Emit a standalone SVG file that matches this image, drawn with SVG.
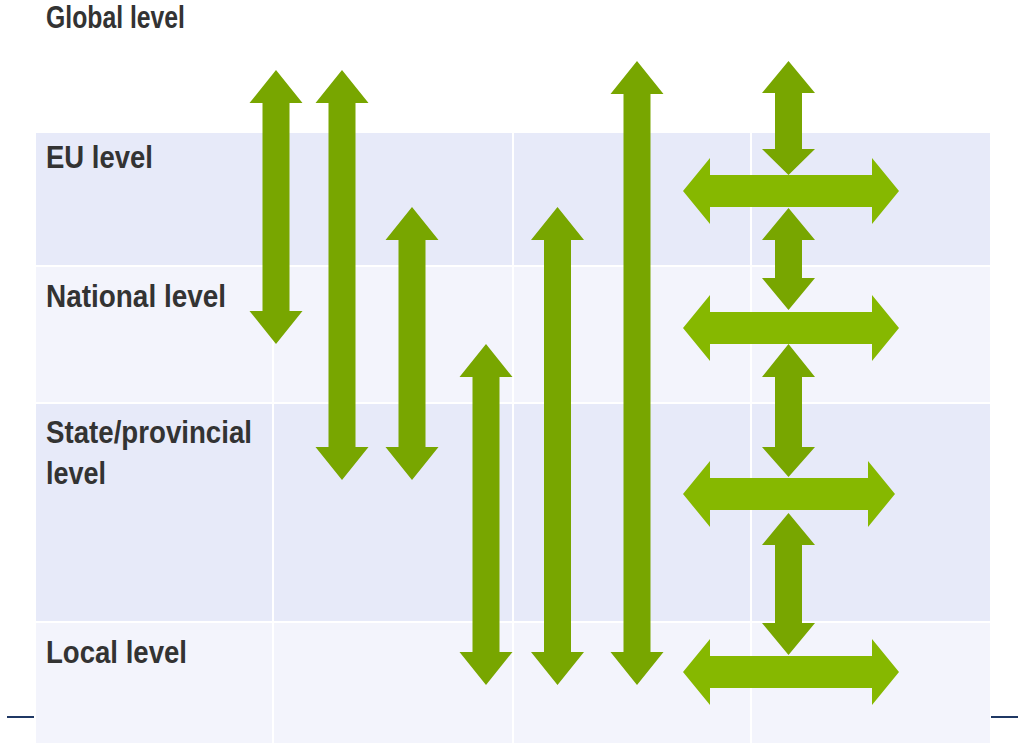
<svg xmlns="http://www.w3.org/2000/svg" width="1024" height="750" viewBox="0 0 1024 750">
<style>
.rowA{fill:#e7eaf9}
.rowB{fill:#f3f4fc}
.grid{stroke:#ffffff;stroke-width:2}
.lbl{font-family:"Liberation Sans",Arial,sans-serif;font-weight:bold;font-size:31px;fill:#333333}
.v{fill:#78a600}
.h{fill:#86b800}
.rule{stroke:#1f3864;stroke-width:2}
</style>
<rect width="1024" height="750" fill="#ffffff"/>
<g id="table">
<rect class="rowA" x="36" y="133" width="954" height="133"/>
<rect class="rowB" x="36" y="266" width="954" height="137"/>
<rect class="rowA" x="36" y="403" width="954" height="219"/>
<rect class="rowB" x="36" y="622" width="954" height="121"/>
<line class="grid" x1="36" y1="266" x2="990" y2="266"/>
<line class="grid" x1="36" y1="403" x2="990" y2="403"/>
<line class="grid" x1="36" y1="622" x2="990" y2="622"/>
<line class="grid" x1="273" y1="133" x2="273" y2="743"/>
<line class="grid" x1="513" y1="133" x2="513" y2="743"/>
<line class="grid" x1="751" y1="133" x2="751" y2="743"/>
<line class="rule" x1="7" y1="717" x2="34" y2="717"/>
<line class="rule" x1="991" y1="717" x2="1018" y2="717"/>
</g>
<g id="label-global"><text class="lbl" x="46" y="28" textLength="139" lengthAdjust="spacingAndGlyphs">Global level</text></g>
<g id="label-eu"><text class="lbl" x="46" y="168" textLength="107" lengthAdjust="spacingAndGlyphs">EU level</text></g>
<g id="label-national"><text class="lbl" x="46" y="307" textLength="180" lengthAdjust="spacingAndGlyphs">National level</text></g>
<g id="label-state"><text class="lbl" x="46" y="443" textLength="206" lengthAdjust="spacingAndGlyphs">State/provincial</text><text class="lbl" x="46" y="484" textLength="60" lengthAdjust="spacingAndGlyphs">level</text></g>
<g id="label-local"><text class="lbl" x="46" y="663" textLength="141" lengthAdjust="spacingAndGlyphs">Local level</text></g>
<g id="connectors">
<path class="v" d="M276,70 L302.5,103 L289.5,103 L289.5,311 L302.5,311 L276,344 L249.5,311 L262.5,311 L262.5,103 L249.5,103 Z"/>
<path class="v" d="M342,70 L368.5,103 L355.5,103 L355.5,447 L368.5,447 L342,480 L315.5,447 L328.5,447 L328.5,103 L315.5,103 Z"/>
<path class="v" d="M412,207 L438.5,240 L425.5,240 L425.5,447 L438.5,447 L412,480 L385.5,447 L398.5,447 L398.5,240 L385.5,240 Z"/>
<path class="v" d="M486,344 L512.5,377 L499.5,377 L499.5,652 L512.5,652 L486,685 L459.5,652 L472.5,652 L472.5,377 L459.5,377 Z"/>
<path class="v" d="M557.5,207 L584,240 L571,240 L571,652 L584,652 L557.5,685 L531,652 L544,652 L544,240 L531,240 Z"/>
<path class="v" d="M637,61 L663.5,94 L650.5,94 L650.5,652 L663.5,652 L637,685 L610.5,652 L623.5,652 L623.5,94 L610.5,94 Z"/>
<path class="v" d="M788.5,61 L815,93 L802,93 L802,149 L815,149 L788.5,175 L762,149 L775,149 L775,93 L762,93 Z"/>
<path class="v" d="M788.5,208 L815,240 L802,240 L802,278 L815,278 L788.5,310 L762,278 L775,278 L775,240 L762,240 Z"/>
<path class="v" d="M788.5,344 L815,377 L802,377 L802,447 L815,447 L788.5,477 L762,447 L775,447 L775,377 L762,377 Z"/>
<path class="v" d="M788.5,513 L815,545 L802,545 L802,623 L815,623 L788.5,655 L762,623 L775,623 L775,545 L762,545 Z"/>
<path class="h" d="M683,191 L710,158 L710,175 L872,175 L872,158 L899,191 L872,224 L872,207 L710,207 L710,224 Z"/>
<path class="h" d="M683,328 L710,295 L710,312 L872,312 L872,295 L899,328 L872,361 L872,344 L710,344 L710,361 Z"/>
<path class="h" d="M683,494 L710,461 L710,478 L868,478 L868,461 L895,494 L868,527 L868,510 L710,510 L710,527 Z"/>
<path class="h" d="M683,672 L710,639 L710,656 L872,656 L872,639 L899,672 L872,705 L872,688 L710,688 L710,705 Z"/>
</g>
</svg>
